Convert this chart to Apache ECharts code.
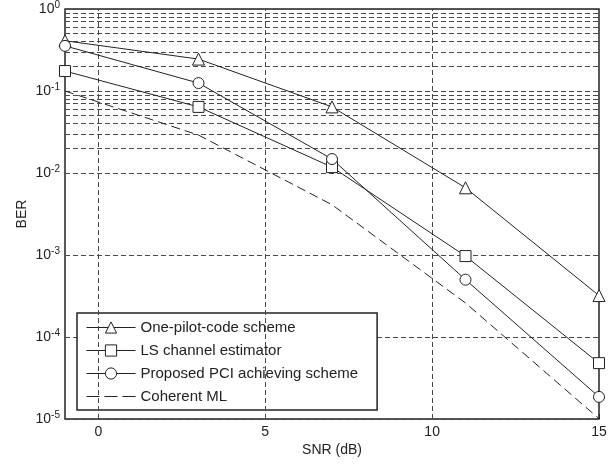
<!DOCTYPE html>
<html>
<head>
<meta charset="utf-8">
<script src="https://cdn.jsdelivr.net/npm/echarts@6/dist/echarts.min.js"></script>
<style>html,body{margin:0;padding:0;background:#fff;}#c{width:616px;height:465px;}</style>
</head>
<body>
<div id="c"></div>
<script>
var snr = [-1, 3, 7, 11, 15];
var onePilot = [0.41, 0.245, 0.064, 0.0066, 0.00032];
var lsEst = [0.175, 0.064, 0.0118, 0.00097, 0.000048];
var pci = [0.355, 0.125, 0.0148, 0.00050, 0.0000186];
var coherentML = [0.1, 0.029, 0.0041, 0.00026, 0.0000101];
var seriesNames = ['One-pilot-code scheme', 'LS channel estimator', 'Proposed PCI achieving scheme', 'Coherent ML'];
var xTicks = [0, 5, 10, 15];
var xGrid = [0, 5, 10];
var minorY = [];
for (var d = -5; d <= -1; d++) { for (var k = 2; k <= 9; k++) { minorY.push(k * Math.pow(10, d)); } }

function pairs(ys) { return snr.map(function (x, i) { return [x, ys[i]]; }); }
var FONT = '"Liberation Sans", Arial, sans-serif';
var gridLine = { type: [5, 3], color: '#4a4a4a', width: 1 };
var dashIcon = 'path://M0,0h0.01v0.01h-0.01z M0,14h0.01v0.01h-0.01z M49,0h0.01v0.01h-0.01z M0,6.5h13v1h-13z M18,6.5h13v1h-13z M36,6.5h13v1h-13z';

var chart = echarts.init(document.getElementById('c'));
function lineSeries(name, ys, symbol, dashed) {
  return {
    name: name, type: 'line', data: pairs(ys),
    symbol: symbol, symbolSize: symbol === 'triangle' ? 12 : 11,
    showSymbol: symbol !== 'none',
    lineStyle: { color: '#222', width: 1, type: dashed ? [9, 5] : 'solid' },
    itemStyle: { color: '#fff', borderColor: '#222', borderWidth: 1 },
    animation: false, z: 5
  };
}
chart.setOption({
  animation: false,
  textStyle: { fontFamily: FONT },
  grid: { left: 65, right: 17, top: 9, bottom: 46, show: true, borderColor: '#222', borderWidth: 1.5, backgroundColor: 'transparent' },
  legend: {
    data: [
      { name: seriesNames[0] },
      { name: seriesNames[1] },
      { name: seriesNames[2] },
      { name: seriesNames[3], icon: dashIcon, itemStyle: { color: '#222', borderWidth: 0 } }
    ],
    orient: 'vertical', left: 77, top: 313,
    itemWidth: 49, itemHeight: 14, itemGap: 8,
    padding: [7, 19, 6, 9],
    itemStyle: { borderWidth: 1 },
    lineStyle: { width: 1 },
    backgroundColor: '#fff', borderColor: '#222', borderWidth: 1.5,
    textStyle: { fontSize: 15, color: '#222', fontFamily: FONT }
  },
  xAxis: {
    type: 'value', min: -1, max: 15,
    name: 'SNR (dB)', nameLocation: 'middle', nameGap: 24, nameMoveOverlap: false,
    nameTextStyle: { fontSize: 14, color: '#222', fontFamily: FONT },
    axisLine: { show: false },
    axisTick: { show: true, inside: true, length: 5, customValues: xTicks, lineStyle: { color: '#222' } },
    axisLabel: { customValues: xTicks, fontSize: 14, color: '#222', margin: 6, fontFamily: FONT },
    splitLine: { show: false }
  },
  yAxis: {
    type: 'log', logBase: 10, min: 0.00001, max: 1,
    name: 'BER', nameLocation: 'middle', nameGap: 36, nameMoveOverlap: false,
    nameTextStyle: { fontSize: 14, color: '#222', fontFamily: FONT },
    axisLine: { show: false },
    axisTick: { show: false },
    axisLabel: {
      margin: 5, color: '#222',
      formatter: function (v) { var e = Math.round(Math.log10(v)); return '{b|10}{s|' + e + '}'; },
      rich: {
        b: { fontSize: 14, color: '#222', fontFamily: FONT },
        s: { fontSize: 10, color: '#222', fontFamily: FONT, padding: [0, 0, 8, 0] }
      }
    },
    splitLine: { show: true, lineStyle: gridLine }
  },
  series: [
    lineSeries(seriesNames[0], onePilot, 'triangle', false),
    lineSeries(seriesNames[1], lsEst, 'rect', false),
    lineSeries(seriesNames[2], pci, 'circle', false),
    lineSeries(seriesNames[3], coherentML, 'none', true),
    {
      name: 'grid', type: 'line', data: [], silent: true, z: 1,
      markLine: {
        silent: true, symbol: ['none', 'none'], animation: false,
        label: { show: false }, lineStyle: gridLine,
        data: minorY.map(function (v) { return { yAxis: v }; }).concat(xGrid.map(function (v) { return { xAxis: v }; }))
      }
    }
  ]
});
</script>
</body>
</html>
